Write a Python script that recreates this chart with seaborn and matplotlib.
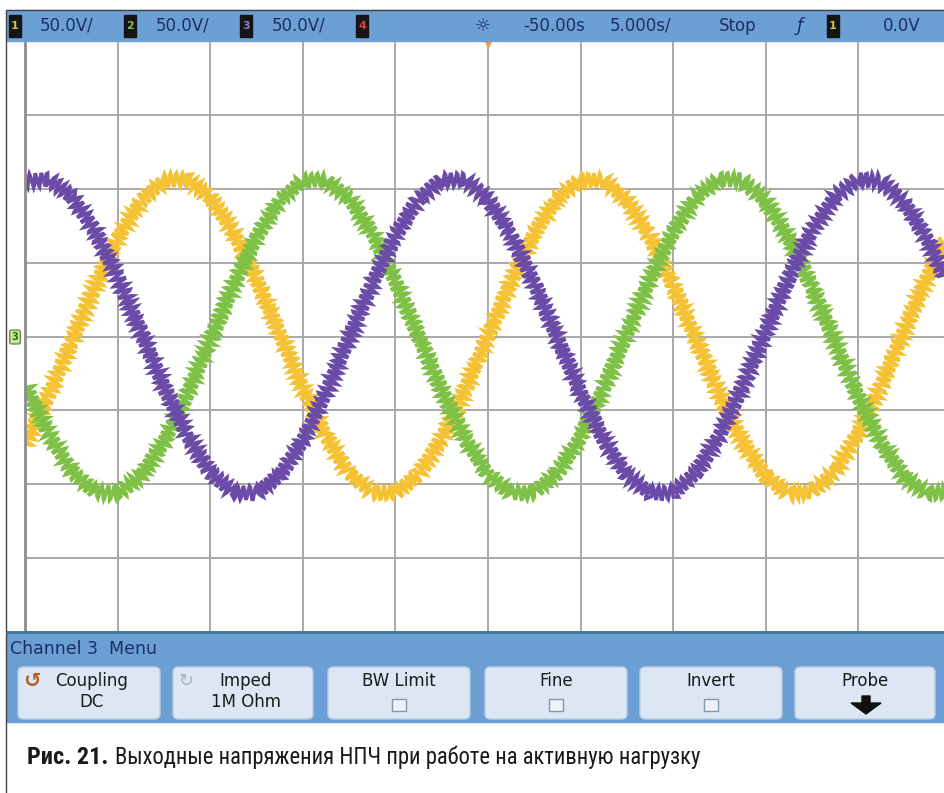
import numpy as np
import pandas as pd
import seaborn as sns
import matplotlib.pyplot as plt
from matplotlib.patches import Rectangle, FancyBboxPatch, Polygon
from matplotlib.lines import Line2D

# --- data (x in divisions, 5 ms/div; y in divisions, 50 V/div) ---
t_div = [0.0, 0.25, 0.5, 0.75, 1.0, 1.25, 1.5, 1.75, 2.0, 2.25, 2.5, 2.75, 3.0, 3.25,
         3.5, 3.75, 4.0, 4.25, 4.5, 4.75, 5.0, 5.25, 5.5, 5.75, 6.0, 6.25, 6.5, 6.75,
         7.0, 7.25, 7.5, 7.75, 8.0, 8.25, 8.5, 8.75, 9.0, 9.25, 9.5, 9.75, 10.0]

ch1_yellow = [-1.45, -0.82, -0.08, 0.66, 1.33, 1.83, 2.11, 2.13, 1.89, 1.42, 0.78, 0.04,
              -0.70, -1.36, -1.85, -2.11, -2.12, -1.87, -1.38, -0.73, 0.01, 0.75, 1.40,
              1.87, 2.12, 2.11, 1.84, 1.35, 0.69, -0.05, -0.79, -1.43, -1.90, -2.13,
              -2.10, -1.82, -1.31, -0.65, 0.10, 0.83, 1.46]

ch2_green = [-0.65, -1.31, -1.82, -2.10, -2.13, -1.89, -1.43, -0.79, -0.05, 0.69, 1.35,
             1.84, 2.11, 2.12, 1.87, 1.40, 0.75, 0.01, -0.73, -1.38, -1.87, -2.12, -2.11,
             -1.85, -1.36, -0.70, 0.04, 0.78, 1.42, 1.89, 2.13, 2.11, 1.83, 1.33, 0.66,
             -0.08, -0.82, -1.45, -1.91, -2.13, -2.10]

ch3_purple = [2.10, 2.13, 1.90, 1.44, 0.80, 0.07, -0.68, -1.34, -1.84, -2.11, -2.12, -1.88,
              -1.41, -0.76, -0.02, 0.72, 1.37, 1.86, 2.12, 2.12, 1.86, 1.37, 0.72, -0.02,
              -0.76, -1.41, -1.88, -2.12, -2.11, -1.84, -1.34, -0.68, 0.07, 0.80, 1.44,
              1.90, 2.13, 2.10, 1.81, 1.30, 0.63]

scale_labels = ["50.0V/", "50.0V/", "50.0V/"]
status_labels = ["-50.00s", "5.000s/", "Stop"]
trig_level = "0.0V"
menu_title = "Channel 3  Menu"
button_top = ["Coupling", "Imped", "BW Limit", "Fine", "Invert", "Probe"]
button_bottom = ["DC", "1M Ohm", "", "", "", ""]
caption_bold = "Рис. 21."
caption_text = "Выходные напряжения НПЧ при работе на активную нагрузку"

W, H = 945, 793
BAR = "#6c9fd4"
NAVY = "#1c2f62"
NARROW = ["Roboto Condensed", "Liberation Sans Narrow", "Roboto", "DejaVu Sans"]


def fx(px):
    return px / W


def fy(py):
    return 1 - py / H


sns.set_theme(style="white")
plt.rcParams["font.family"] = ["DejaVu Sans"]

fig = plt.figure(figsize=(W / 100, H / 100), dpi=100)
fig.patch.set_facecolor("white")

# graticule area
ax = fig.add_axes([fx(25), fy(632), fx(945) - fx(25), (632 - 41) / H])
ax.set_facecolor("white")

df = pd.DataFrame({
    "t": t_div * 3,
    "v": ch1_yellow + ch2_green + ch3_purple,
    "ch": ["1"] * len(t_div) + ["2"] * len(t_div) + ["3"] * len(t_div),
})
palette = {"1": "#f4c234", "2": "#7fc046", "3": "#6a4ba8"}
sns.lineplot(data=df, x="t", y="v", hue="ch", hue_order=["1", "2", "3"],
             palette=palette, lw=2.6, legend=False, ax=ax, estimator=None, sort=False)
for ln in ax.lines:
    # switching ripple drawn as a sketch wiggle
    ln.set_sketch_params(7, 6, 1.3)
    ln.set_solid_joinstyle("miter")

ax.set_xlim(0, (945 - 25) / 92.6)
ax.set_ylim(-4, 4)
ax.set_xticks(range(0, 10))
ax.set_yticks(range(-4, 5))
ax.grid(True, color="#a9a9a9", lw=1.4)
ax.set_axisbelow(True)
ax.tick_params(length=0, labelbottom=False, labelleft=False)
ax.set_xlabel("")
ax.set_ylabel("")
for side in ["top", "right", "bottom"]:
    ax.spines[side].set_visible(False)
ax.spines["left"].set_color("#8c8c8c")
ax.spines["left"].set_linewidth(2)

# trigger position marker
ax.plot([5.0], [4.0], marker="v", color="#f0a040", ms=8, clip_on=False, zorder=5)

# outer frame
fig.add_artist(Line2D([fx(6), fx(6)], [fy(10), 0], transform=fig.transFigure, color="#444444", lw=1))
fig.add_artist(Line2D([fx(6), 1], [fy(10), fy(10)], transform=fig.transFigure, color="#444444", lw=1))

# top status bar
fig.add_artist(Rectangle((fx(7), fy(41)), 1 - fx(7), 31 / H, transform=fig.transFigure,
                         color=BAR, zorder=1))
box_x = [9, 124, 240, 356, 827]
box_col = ["#d8c050", "#80c050", "#8a78d0", "#e04040", "#d8c050"]
box_txt = ["1", "2", "3", "4", "1"]
for bx, bc, bt in zip(box_x, box_col, box_txt):
    fig.add_artist(Rectangle((fx(bx), fy(37)), 12 / W, 22 / H, transform=fig.transFigure,
                             color="#151515", zorder=2))
    fig.text(fx(bx + 6), fy(26), bt, color=bc, fontsize=8, weight="bold",
             ha="center", va="center", zorder=3)
for sx, s in zip([40, 156, 272], scale_labels):
    fig.text(fx(sx), fy(26), s, color=NAVY, fontsize=12, ha="left", va="center")
fig.text(fx(483), fy(26), "☼", color=NAVY, fontsize=13, ha="center", va="center")
fig.text(fx(523), fy(26), status_labels[0], color=NAVY, fontsize=12, ha="left", va="center")
fig.text(fx(610), fy(26), status_labels[1], color=NAVY, fontsize=12, ha="left", va="center")
fig.text(fx(738), fy(26), status_labels[2], color=NAVY, fontsize=12, ha="center", va="center")
fig.text(fx(800), fy(26), "ƒ", color=NAVY, fontsize=13, ha="center", va="center", style="italic")
fig.text(fx(921), fy(26), trig_level, color=NAVY, fontsize=12, ha="right", va="center")

# channel 3 ground reference marker
fig.text(fx(15), fy(337), "3", color="#2f6a18", fontsize=7, weight="bold", ha="center", va="center",
         bbox=dict(boxstyle="round,pad=0.2", fc="#c9e6a4", ec="#5a9a30", lw=1))

# softkey menu
fig.add_artist(Rectangle((fx(7), fy(722)), 1 - fx(7), 90 / H, transform=fig.transFigure,
                         color=BAR, zorder=1))
fig.add_artist(Line2D([fx(7), 1], [fy(632), fy(632)], transform=fig.transFigure,
                      color="#44709c", lw=2, zorder=2))
fig.text(fx(10), fy(649), menu_title, color=NAVY, fontsize=12.5, ha="left", va="center")

btn_l = [18, 173, 328, 485, 640, 795]
btn_r = [160, 313, 470, 627, 782, 935]
for i, (l, r) in enumerate(zip(btn_l, btn_r)):
    fig.add_artist(FancyBboxPatch((fx(l), fy(719)), (r - l) / W, 52 / H,
                                  boxstyle="round,pad=0,rounding_size=0.006",
                                  transform=fig.transFigure, fc="#dce7f3", ec="#b8cce2",
                                  lw=1, zorder=2))
    cx = (l + r) / 2
    if i == 0:
        cx = 92
    elif i == 1:
        cx = 246
    fig.text(fx(cx), fy(681), button_top[i], color="#1a1a1a", fontsize=12,
             ha="center", va="center", zorder=3)
    if button_bottom[i]:
        fig.text(fx(cx), fy(702), button_bottom[i], color="#1a1a1a", fontsize=12,
                 ha="center", va="center", zorder=3)
    elif 2 <= i <= 4:
        fig.add_artist(Rectangle((fx(cx - 7), fy(711)), 14 / W, 12 / H, transform=fig.transFigure,
                                 fc="#edf2f8", ec="#8797aa", lw=1, zorder=3))

fig.text(fx(32), fy(681), "↺", color="#b0602a", fontsize=15, weight="bold",
         ha="center", va="center", zorder=3)
fig.text(fx(186), fy(681), "↻", color="#a8b4c0", fontsize=13, ha="center", va="center", zorder=3)
arrow = [(862, 696), (870, 696), (870, 703), (881, 703), (866, 714), (851, 703), (862, 703)]
fig.add_artist(Polygon([(fx(a), fy(b)) for a, b in arrow], closed=True,
                       transform=fig.transFigure, color="#101010", zorder=3))

# caption: bold figure number, then the description right after it
t1 = fig.text(fx(27), fy(757), caption_bold, color="#1a1a1a", fontsize=17.5, weight="bold",
              ha="left", va="center", family=NARROW)
fig.canvas.draw()
bb = t1.get_window_extent()
fig.text(fx(bb.x1 + 7), fy(757), caption_text, color="#1a1a1a", fontsize=16.3,
         ha="left", va="center", family=NARROW)

fig.savefig("out.png", dpi=100)
